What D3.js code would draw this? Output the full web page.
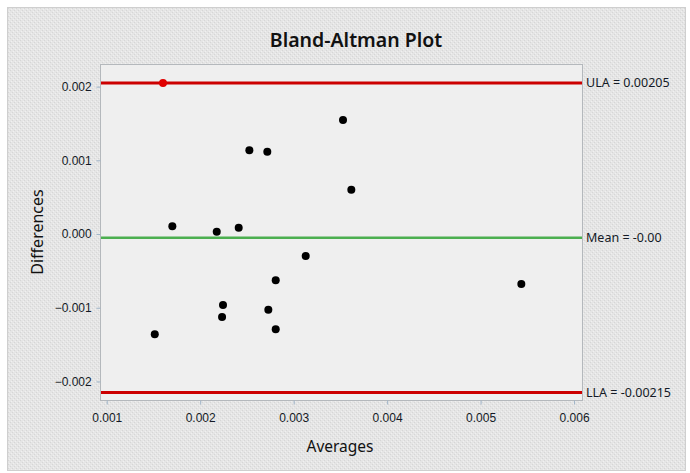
<!DOCTYPE html>
<html>
<head>
<meta charset="utf-8">
<script src="https://cdn.jsdelivr.net/npm/d3@7"></script>
<style>
  html, body { margin: 0; padding: 0; background: #fff; }
  svg { display: block; font-family: "Segoe UI", "Noto Sans", sans-serif; }
</style>
</head>
<body>
<div id="chart"></div>
<script>
// Bland-Altman data (averages vs differences)
const averages = [0.001602, 0.003528, 0.002526, 0.002718, 0.003617, 0.001702, 0.002177, 0.002412,
  0.003129, 0.002808, 0.002244, 0.002234, 0.002729, 0.002808, 0.001514, 0.005436];
const differences = [0.00205, 0.001547, 0.001136, 0.001117, 0.000601, 0.000104, 0.000031, 0.000085,
  -0.000299, -0.000628, -0.000963, -0.001126, -0.001027, -0.001293, -0.001361, -0.000678];
// points outside the limits are drawn red
const outlier = [true, false, false, false, false, false, false, false,
  false, false, false, false, false, false, false, false];

const refValues = [0.00205, -0.00005, -0.00215];
const refLabels = ['ULA = 0.00205', 'Mean = -0.00', 'LLA = -0.00215'];
const refColors = ['#cc0000', '#4caf50', '#cc0000'];

const xTicks = [0.001, 0.002, 0.003, 0.004, 0.005, 0.006];
const yTicks = [-0.002, -0.001, 0.000, 0.001, 0.002];

const W = 690, H = 473;
const margin = { top: 64, right: 108, bottom: 73, left: 100 };
const innerW = W - margin.left - margin.right;
const innerH = H - margin.top - margin.bottom;

const svg = d3.select('#chart').append('svg').attr('width', W).attr('height', H);

// textured grey background like the original screenshot
const defs = svg.append('defs');
const pat = defs.append('pattern').attr('id', 'tex')
  .attr('width', 4).attr('height', 4).attr('patternUnits', 'userSpaceOnUse');
pat.append('rect').attr('width', 4).attr('height', 4).attr('fill', '#e5e5e5');
pat.append('rect').attr('x', 0).attr('y', 0).attr('width', 1).attr('height', 1).attr('fill', '#d6d6d6');
pat.append('rect').attr('x', 2).attr('y', 2).attr('width', 1).attr('height', 1).attr('fill', '#d6d6d6');
pat.append('rect').attr('x', 1).attr('y', 3).attr('width', 1).attr('height', 1).attr('fill', '#f0f0f0');
pat.append('rect').attr('x', 3).attr('y', 1).attr('width', 1).attr('height', 1).attr('fill', '#f0f0f0');

svg.append('rect').attr('x', 7.5).attr('y', 7.5).attr('width', 678).attr('height', 463)
  .attr('fill', 'url(#tex)').attr('stroke', '#cfcfcf');

const x = d3.scaleLinear().domain([0.000928, 0.006085]).range([0, innerW]);
const y = d3.scaleLinear().domain([-0.002252, 0.002307]).range([innerH, 0]);

const g = svg.append('g').attr('transform', `translate(${margin.left},${margin.top})`);

// plot panel
g.append('rect').attr('x', 0.5).attr('y', 0.5).attr('width', innerW).attr('height', innerH)
  .attr('fill', '#efefef').attr('stroke', '#b4b8bc');

// axes
const xAxis = g.append('g').attr('transform', `translate(0,${innerH + 0.5})`)
  .call(d3.axisBottom(x).tickValues(xTicks).tickFormat(d3.format('.3f')).tickSize(4).tickSizeOuter(0));
const yAxis = g.append('g').attr('transform', 'translate(0.5,0)')
  .call(d3.axisLeft(y).tickValues(yTicks).tickFormat(d3.format('.3f')).tickSize(4).tickSizeOuter(0));
[xAxis, yAxis].forEach((a) => {
  a.select('.domain').remove();
  a.selectAll('.tick line').attr('stroke', '#9fb4c8');
  a.selectAll('.tick text').attr('fill', '#141a26').style('font-size', '12px');
});
xAxis.selectAll('.tick text').attr('dy', '1.2em');
yAxis.selectAll('.tick text').attr('dx', '-0.15em');

// reference lines
g.selectAll('.ref').data(refValues).enter().append('line')
  .attr('class', 'ref')
  .attr('x1', 1).attr('x2', innerW)
  .attr('y1', (d) => y(d)).attr('y2', (d) => y(d))
  .attr('stroke', (d, i) => refColors[i])
  .attr('stroke-width', (d, i) => (i === 1 ? 2.5 : 3));

g.selectAll('.reflab').data(refValues).enter().append('text')
  .attr('class', 'reflab')
  .attr('x', innerW + 4)
  .attr('y', (d) => y(d))
  .attr('dy', '0.35em')
  .attr('fill', '#141a26')
  .style('font-size', '12.5px')
  .text((d, i) => refLabels[i]);

// points
g.selectAll('.pt').data(averages).enter().append('circle')
  .attr('class', 'pt')
  .attr('cx', (d) => x(d))
  .attr('cy', (d, i) => y(differences[i]))
  .attr('r', 4)
  .attr('fill', (d, i) => (outlier[i] ? '#e00000' : '#000'));

// titles
svg.append('text').attr('x', 356).attr('y', 47).attr('text-anchor', 'middle')
  .style('font-size', '19.5px').style('font-weight', 600).attr('fill', '#111')
  .text('Bland-Altman Plot');
svg.append('text').attr('x', 340).attr('y', 452).attr('text-anchor', 'middle')
  .style('font-size', '15.5px').attr('fill', '#111').text('Averages');
svg.append('text').attr('transform', 'translate(43,232) rotate(-90)').attr('text-anchor', 'middle')
  .style('font-size', '16px').attr('fill', '#111').text('Differences');
</script>
</body>
</html>
